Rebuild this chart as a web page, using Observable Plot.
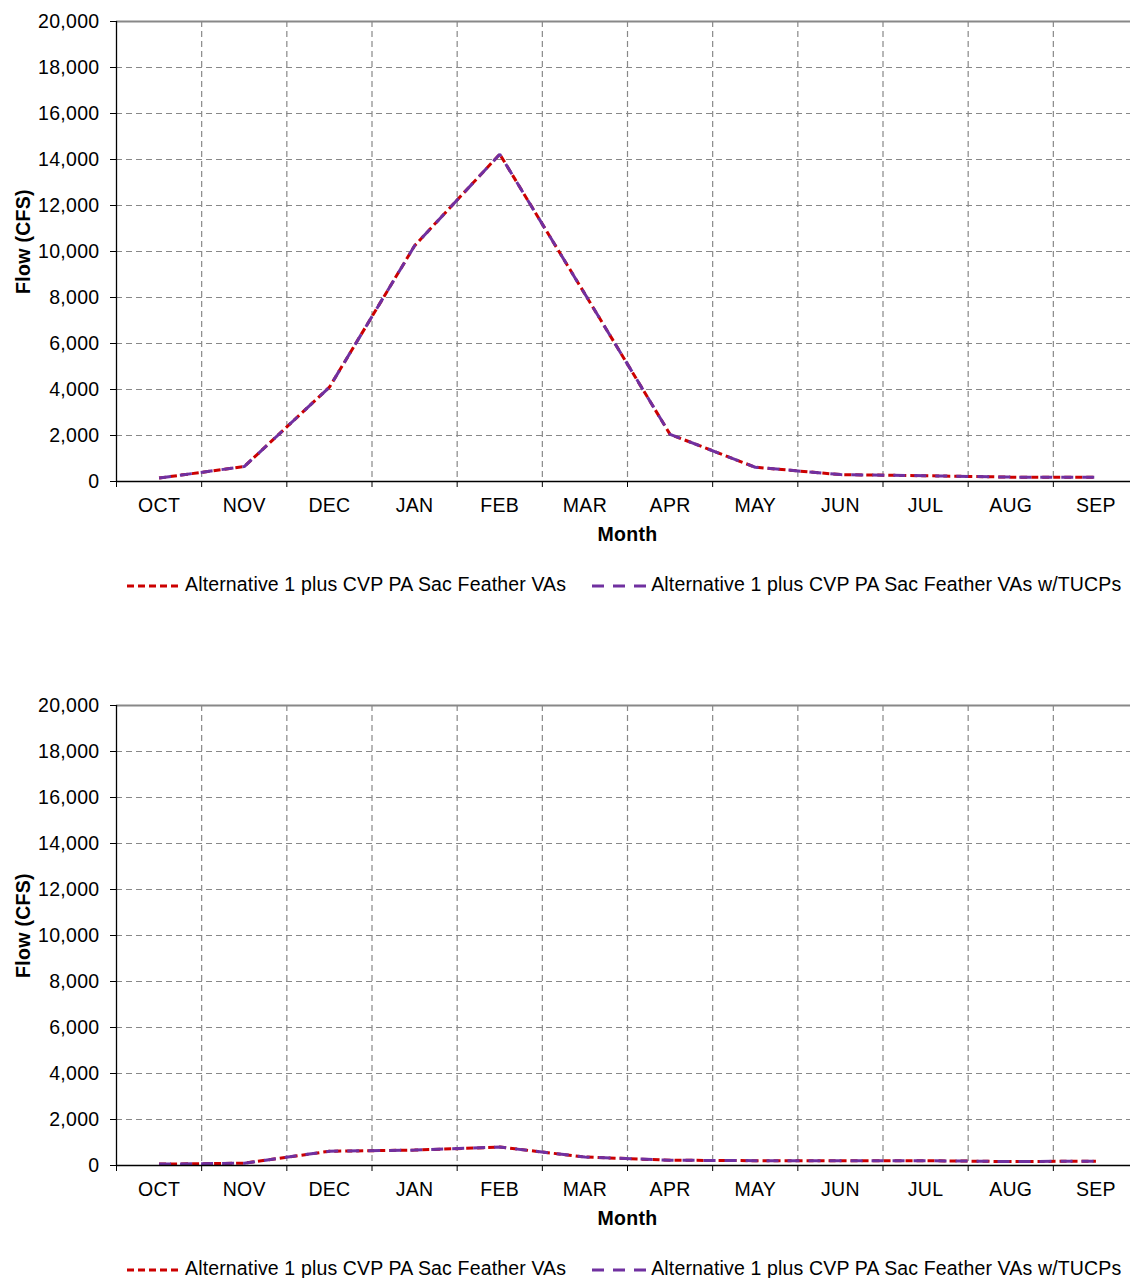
<!DOCTYPE html>
<html>
<head>
<meta charset="utf-8">
<script src="https://cdn.jsdelivr.net/npm/d3@7"></script>
<script src="https://cdn.jsdelivr.net/npm/@observablehq/plot@0.6"></script>
<style>
  body { margin: 0; background: #fff; font-family: "Liberation Sans", Arial, sans-serif; }
  .block { width: 1130px; height: 684px; overflow: hidden; }
  .legend { display: flex; align-items: flex-start; padding-left: 127px; padding-top: 18px;
            font-size: 19.5px; letter-spacing: 0.15px; line-height: 20px; color: #000; white-space: nowrap; }
  .item { display: flex; align-items: flex-start; }
  .item + .item { margin-left: 26px; }
  .item svg { margin-right: 5px; display: block; }
</style>
</head>
<body>
<div id="charts"></div>
<script>
// Water-year months, flow axis ticks and series styling
const months = ["OCT", "NOV", "DEC", "JAN", "FEB", "MAR", "APR", "MAY", "JUN", "JUL", "AUG", "SEP"];
const yTicks = [0, 2000, 4000, 6000, 8000, 10000, 12000, 14000, 16000, 18000, 20000];
const seriesNames = [
  "Alternative 1 plus CVP PA Sac Feather VAs",
  "Alternative 1 plus CVP PA Sac Feather VAs w/TUCPs"
];
const seriesColors = ["#cc0000", "#7030a0"];
const seriesDash = ["7,4", "12,9"];

// Monthly flow (CFS), upper panel
const upperBase = [150, 650, 4100, 10250, 14230, 8150, 2050, 620, 300, 250, 190, 185];
const upperTucp = [150, 650, 4100, 10250, 14230, 8150, 2050, 620, 300, 250, 190, 185];

// Monthly flow (CFS), lower panel
const lowerBase = [60, 100, 620, 670, 800, 370, 230, 210, 210, 210, 170, 190];
const lowerTucp = [60, 100, 620, 670, 800, 370, 230, 210, 210, 210, 170, 190];

const fmt = d3.format(",");
const bounds = d3.range(-0.5, months.length, 1); // band edges between months

function rows(values) {
  return values.map((v, i) => ({month: i, flow: v}));
}

function chart(base, tucp) {
  const grid = {stroke: "#888", strokeWidth: 1.2, strokeDasharray: "6,4"};
  return Plot.plot({
    width: 1130,
    height: 556,
    marginTop: 21,
    marginBottom: 75,
    marginLeft: 116,
    marginRight: -8,
    style: {fontFamily: '"Liberation Sans", Arial, sans-serif', fontSize: "19.5px", letterSpacing: "0.3px", color: "#000", background: "#fff"},
    x: {domain: [-0.5, months.length - 0.5]},
    y: {domain: [0, 20000]},
    marks: [
      Plot.ruleY(yTicks.slice(1, -1), grid),
      Plot.ruleX(bounds.slice(1, -1), grid),
      Plot.ruleY([yTicks[yTicks.length - 1]], {stroke: "#888", strokeWidth: 2}),
      Plot.ruleX([bounds[bounds.length - 1]], {stroke: "#888", strokeWidth: 2}),
      Plot.line(rows(base), {x: "month", y: "flow", stroke: seriesColors[0], strokeWidth: 3,
        strokeDasharray: seriesDash[0], strokeLinecap: "butt", strokeLinejoin: "miter"}),
      Plot.line(rows(tucp), {x: "month", y: "flow", stroke: seriesColors[1], strokeWidth: 3,
        strokeDasharray: seriesDash[1], strokeLinecap: "butt", strokeLinejoin: "miter"}),
      Plot.ruleX([bounds[0]], {stroke: "#000", strokeWidth: 1.3}),
      Plot.ruleY([0], {stroke: "#000", strokeWidth: 1.3}),
      Plot.axisY({ticks: yTicks, tickFormat: fmt, tickSize: 6, tickPadding: 11, label: null}),
      Plot.axisX({ticks: d3.range(months.length), tickFormat: i => months[i], tickSize: 0, tickPadding: 17, label: null}),
      Plot.axisX({ticks: bounds, tickFormat: () => "", tickSize: 6, label: null}),
      Plot.text(["Month"], {frameAnchor: "bottom", dy: 59, lineAnchor: "bottom", fontWeight: "bold"}),
      Plot.text(["Flow (CFS)"], {frameAnchor: "left", textAnchor: "middle", rotate: -90, dx: -100, dy: -10,
        lineAnchor: "top", fontWeight: "bold"})
    ]
  });
}

function legend() {
  const div = document.createElement("div");
  div.className = "legend";
  seriesNames.forEach((name, i) => {
    const item = document.createElement("div");
    item.className = "item";
    const w = i === 0 ? 53 : 54;
    const sw = d3.create("svg").attr("width", w).attr("height", 20);
    sw.append("line").attr("x1", 0).attr("x2", w).attr("y1", 12).attr("y2", 12)
      .attr("stroke", seriesColors[i]).attr("stroke-width", 3).attr("stroke-dasharray", seriesDash[i]);
    item.appendChild(sw.node());
    const label = document.createElement("span");
    label.textContent = name;
    item.appendChild(label);
    div.appendChild(item);
  });
  return div;
}

const root = document.getElementById("charts");
[[upperBase, upperTucp], [lowerBase, lowerTucp]].forEach(([a, b]) => {
  const block = document.createElement("div");
  block.className = "block";
  block.appendChild(chart(a, b));
  block.appendChild(legend());
  root.appendChild(block);
});
</script>
</body>
</html>
